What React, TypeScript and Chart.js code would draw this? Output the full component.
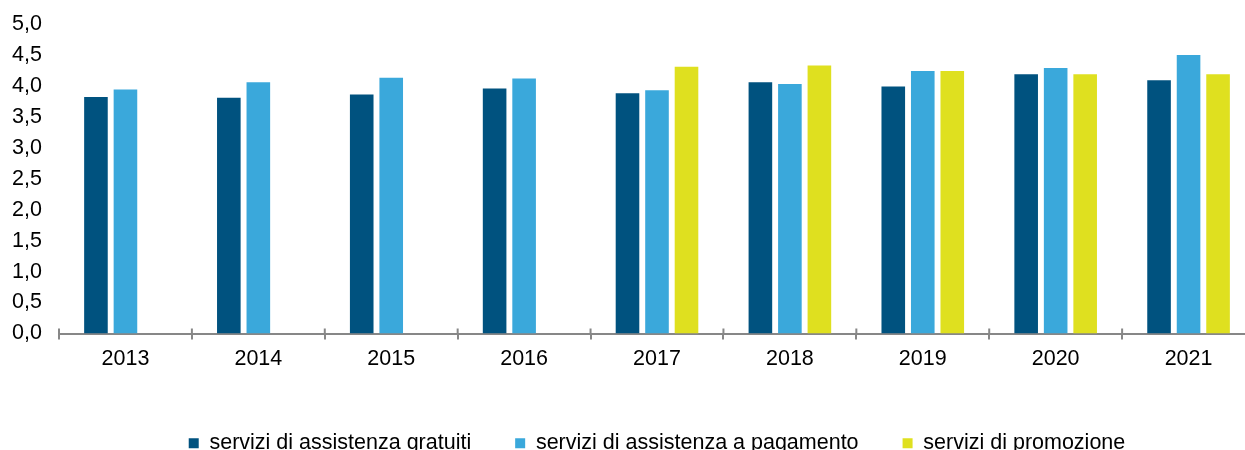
import React, { useEffect, useRef } from "react";
import { Chart, registerables } from "chart.js";

Chart.register(...registerables);

const categories = ["2013", "2014", "2015", "2016", "2017", "2018", "2019", "2020", "2021"];
const gratuiti = [3.82, 3.81, 3.86, 3.96, 3.88, 4.06, 3.99, 4.19, 4.09];
const pagamento = [3.94, 4.06, 4.13, 4.12, 3.93, 4.03, 4.24, 4.29, 4.5];
const promozione = [null, null, null, null, 4.31, 4.33, 4.24, 4.19, 4.19];
const seriesNames = [
  "servizi di assistenza gratuiti",
  "servizi di assistenza a pagamento",
  "servizi di promozione",
];

const FONT = "'Liberation Sans', Arial, sans-serif";
const AXIS_COLOR = "#878787";

const crossTicks = {
  id: "crossTicks",
  afterDraw(chart: any) {
    const xs = chart.scales.x;
    const ctx = chart.ctx;
    const n = chart.data.labels.length;
    const w = (xs.right - xs.left) / n;
    ctx.save();
    ctx.strokeStyle = AXIS_COLOR;
    ctx.lineWidth = 2;
    for (let i = 0; i <= n; i++) {
      const x = xs.left + i * w;
      ctx.beginPath();
      ctx.moveTo(x, xs.top - 5);
      ctx.lineTo(x, xs.top);
      ctx.stroke();
    }
    ctx.restore();
  },
};

export default function App() {
  const ref = useRef<HTMLCanvasElement>(null);
  useEffect(() => {
    if (!ref.current) return;
    const chart = new Chart(ref.current, {
      type: "bar",
      data: {
        labels: categories,
        datasets: [
          { label: seriesNames[0], data: gratuiti, backgroundColor: "#00527F" },
          { label: seriesNames[1], data: pagamento, backgroundColor: "#3AA8DB" },
          { label: seriesNames[2], data: promozione as any, backgroundColor: "#DFE01F" },
        ],
      },
      plugins: [crossTicks],
      options: {
        animation: false,
        responsive: true,
        maintainAspectRatio: false,
        layout: { padding: { left: 12, right: 10, top: 24, bottom: 0 } },
        datasets: { bar: { barPercentage: 0.8, categoryPercentage: 0.666 } },
        plugins: {
          tooltip: { enabled: false },
          legend: {
            position: "bottom",
            fullSize: false,
            labels: {
              boxWidth: 10,
              boxHeight: 10,
              padding: 44,
              color: "#000",
              font: { family: FONT, size: 21.5 },
            },
          },
        },
        scales: {
          x: {
            grid: {
              display: true,
              drawOnChartArea: false,
              drawTicks: true,
              tickLength: 6,
              offset: true,
              color: AXIS_COLOR,
              lineWidth: 2,
            },
            border: { display: true, color: AXIS_COLOR, width: 2 },
            ticks: {
              color: "#000",
              padding: 7,
              maxRotation: 0,
              font: { family: FONT, size: 21.5 },
            },
            afterFit: (scale: any) => {
              scale.height = 55;
            },
          },
          y: {
            min: 0,
            max: 5,
            grid: { display: false, drawTicks: false },
            border: { display: false },
            ticks: {
              stepSize: 0.5,
              padding: 17,
              color: "#000",
              font: { family: FONT, size: 21.5 },
              callback: (v: any) => Number(v).toFixed(1).replace(".", ","),
            },
            afterFit: (scale: any) => {
              scale.width = 47;
              scale.paddingTop = 0;
              scale.paddingBottom = 0;
            },
          },
        },
      },
    });
    return () => chart.destroy();
  }, []);

  return (
    <div
      style={{
        position: "absolute",
        left: 0,
        top: 0,
        width: 1245,
        height: 450,
        overflow: "hidden",
        background: "#fff",
      }}
    >
      <div style={{ position: "relative", width: 1265, height: 464 }}>
        <canvas ref={ref} />
      </div>
    </div>
  );
}
